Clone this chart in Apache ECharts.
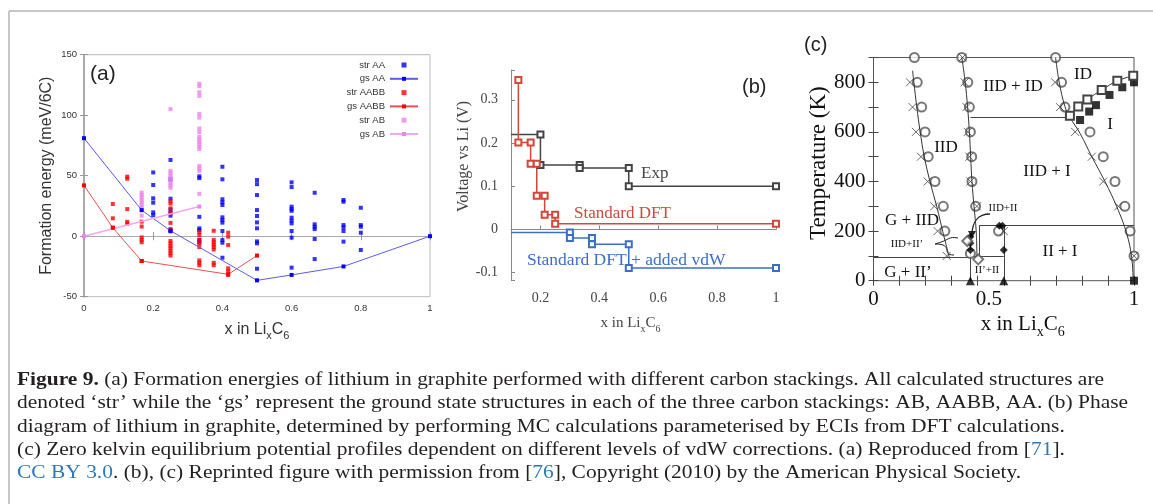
<!DOCTYPE html>
<html><head><meta charset="utf-8">
<script src="https://cdn.jsdelivr.net/npm/echarts@6/dist/echarts.min.js"></script>
<style>html,body{margin:0;padding:0;background:#fff}#c{width:1153px;height:504px}</style>
</head><body><div id="c"></div><script>
const serif = '"Liberation Serif", "Times New Roman", serif';
const sans = '"Liberation Sans", Arial, sans-serif';

// ---------------- panel (a): formation energies ----------------
const aXTicks = [0, 0.2, 0.4, 0.6, 0.8, 1];
const aYTicks = [-50, 0, 50, 100, 150];
const strAA_x = [0.2, 0.25, 0.3333, 0.4, 0.5, 0.6, 0.6667, 0.75, 0.8];
const strAA_y = [
  [52.7, 42.3, 31.3, 27.7, 19.7, 17.5],
  [63, 47, 31, 22, 19, 17, 5, 4],
  [49.5, 48, 16, 6.5, 5, -3, -5],
  [57.4, 47, 30.5, 28, 25.8, 15.6, 13.4, 11.2, 4.3, -3.2, -5.4, -17.8],
  [46.4, 43, 34, 21.6, 16.7, 11.4, 6.5, -4.3, -5.9, -26.9],
  [44.5, 40.6, 24.4, 22.4, 21, 15.3, 12.8, 10.6, 4.3, -1.2, -26],
  [35.9, 9.8, 7.8, 5.9, -2.3, -18.9],
  [29.9, 28.5, 9.2, 7.3, 4.3, -4.5],
  [23.5, 9.2, 7.8, 2.9, -11.4]
];
const gsAA_x = [0, 0.1667, 0.25, 0.5, 0.6, 0.75, 1];
const gsAA_y = [81, 21.5, 4.5, -36.5, -32, -25, 0];
const strAABB_x = [0.0833, 0.125, 0.1667, 0.25, 0.3333, 0.375, 0.4167];
const strAABB_y = [
  [26.6, 14.8, 7],
  [49.2, 47.5, 22.4, 11.9, 10.3],
  [12, 8, -1, -3, -5, -20.5],
  [29, 27, 23, 19.4, 11, 6, -4, -6, -8, -10, -12, -14, -16],
  [3.5, 1, -3, -6, -9, -20, -22, -24],
  [4.5, -3, -5, -7, -9, -11, -22, -24],
  [2.9, -0.4, -7.3, -26.6, -29, -32]
];
const gsAABB_x = [0, 0.0833, 0.1667, 0.4167, 0.5];
const gsAABB_y = [42, 7, -20.5, -31.5, -16];
const strAB_x = [0.1667, 0.25, 0.3333];
const strAB_y = [
  [36, 34, 32, 30, 28, 26, 24, 22, 17],
  [105, 54, 52, 50, 48, 46, 44, 42, 40],
  [126, 124, 119, 116, 101, 98, 89, 86, 82, 80, 78, 76, 74, 72, 58, 56, 54, 35]
];
const gsAB_x = [0, 0.3333];
const gsAB_y = [0, 24.5];

// ---------------- panel (b): voltage profiles ----------------
const bXTicks = [0.2, 0.4, 0.6, 0.8, 1];
const bYTicks = [-0.1, 0, 0.1, 0.2, 0.3];
const expX = [0.1, 0.2, 0.2, 0.3333, 0.3333, 0.5, 0.5, 1];
const expY = [0.22, 0.22, 0.149, 0.149, 0.142, 0.142, 0.1, 0.1];
const dftX = [0.125, 0.125, 0.1667, 0.1667, 0.1875, 0.1875, 0.2143, 0.2143, 0.25, 0.25, 1];
const dftY = [0.346, 0.201, 0.201, 0.152, 0.152, 0.078, 0.078, 0.034, 0.034, 0.013, 0.013];
const vdwX = [0.1, 0.3, 0.3, 0.375, 0.375, 0.5, 0.5, 1];
const vdwY = [-0.007, -0.007, -0.02, -0.02, -0.034, -0.034, -0.089, -0.089];

// ---------------- panel (c): phase diagram ----------------
const cXLabels = [0, 0.5, 1];
const cYLabels = [0, 200, 400, 600, 800];
const curve1_x = [0.150, 0.155, 0.166, 0.179, 0.195, 0.217, 0.243, 0.266, 0.291];
const curve1_y = [847, 800, 702, 601, 500, 399, 298, 198, 94];
const curve2_x = [0.339, 0.352, 0.361, 0.368, 0.373, 0.378, 0.386, 0.394, 0.397];
const curve2_y = [900, 800, 702, 601, 500, 399, 298, 204, 100];
const curve3_x = [0.699, 0.713, 0.735, 0.754, 0.793, 0.838, 0.889, 0.934, 0.972, 0.991, 0.997];
const curve3_y = [900, 800, 702, 659, 594, 500, 399, 298, 190, 94, 0];
const sqOpen_x = [0.754, 0.786, 0.821, 0.876, 0.936, 0.997];
const sqOpen_y = [665, 702, 731, 769, 806, 826];
const sqFill_x = [0.793, 0.828, 0.854, 0.906, 0.955, 1.0, 1.0];
const sqFill_y = [648, 682, 708, 749, 780, 800, 0];
const circ_x = [0.157, 0.168, 0.185, 0.198, 0.210, 0.236, 0.268, 0.274, 0.339, 0.362, 0.368, 0.372, 0.377, 0.378, 0.392, 0.699, 0.722, 0.735, 0.831, 0.882, 0.927, 0.965, 0.985, 0.480, 0.372, 1.0];
const circ_y = [900, 800, 700, 600, 500, 400, 300, 200, 900, 800, 700, 600, 500, 400, 300, 900, 800, 700, 600, 500, 400, 300, 200, 200, 110, 100];
const cross_x = [0.140, 0.150, 0.163, 0.182, 0.208, 0.233, 0.246, 0.281, 0.342, 0.350, 0.357, 0.362, 0.368, 0.372, 0.397, 0.697, 0.716, 0.774, 0.838, 0.882, 0.940, 0.500, 1.0];
const cross_y = [800, 700, 600, 500, 400, 300, 200, 100, 900, 800, 700, 600, 500, 400, 300, 800, 700, 600, 500, 400, 300, 200, 100];
const tri_x = [0.372, 0.5];
const tri_y = [0, 0];
const diaFill_x = [0.372, 0.372, 0.372, 0.5, 0.483, 0.495];
const diaFill_y = [124, 151, 177, 124, 222, 222];
const diaOpen_x = [0.402, 0.36];
const diaOpen_y = [86, 160];
// phase boundary segments: [x1, y1, x2, y2]
const segs = [
  [0.372, 659, 0.754, 659],
  [0.406, 222, 1.0, 222],
  [0, 93, 0.372, 93],
  [0.372, 100, 0.5, 100],
  [0.372, 0, 0.372, 198],
  [0.5, 0, 0.5, 222],
  [0.406, 100, 0.406, 222]
];

// ---------------- helpers ----------------
const zip = (xs, ys) => xs.map((x, i) => [x, ys[i]]);
const cols = (xs, yss) => { const o = []; xs.forEach((x, i) => yss[i].forEach(y => o.push([x, y]))); return o; };
const near = (v, arr) => arr.some(t => Math.abs(t - v) < 1e-6);
const fmtNum = v => String(+(+v).toFixed(2));

const chart = echarts.init(document.getElementById('c'), null, { renderer: 'canvas' });

const subName = (font, big, small, color) => ({
  rich: {
    n: { fontFamily: font, fontSize: big, color: color, verticalAlign: 'bottom', padding: [0, 0, Math.round(big * 0.22), 0] },
    s: { fontFamily: font, fontSize: small, color: color, verticalAlign: 'bottom' }
  }
});
const sqIcon = 'path://M0,0L10,0L10,10L0,10Z';

const option = {
  animation: false,
  backgroundColor: '#fff',
  legend: {
    data: [
      { name: 'str AA', icon: sqIcon }, 'gs AA',
      { name: 'str AABB', icon: sqIcon }, 'gs AABB',
      { name: 'str AB', icon: sqIcon }, 'gs AB'
    ],
    orient: 'vertical', right: 734, top: 60, padding: 0, align: 'right', symbolKeepAspect: true,
    itemWidth: 28, itemHeight: 5, itemGap: 3.8,
    textStyle: { fontSize: 9.5, color: '#333', fontFamily: sans }
  },
  grid: [
    { left: 84, right: 723, top: 54.7, bottom: 207.3, show: true, borderColor: '#bbb', borderWidth: 1 },
    { left: 511, right: 377, top: 70, bottom: 224, show: false },
    { left: 873.5, right: 19, top: 57.5, bottom: 223.3, show: true, borderColor: '#555', borderWidth: 1 }
  ],
  xAxis: [
    { gridIndex: 0, type: 'value', min: 0, max: 1, interval: 0.2,
      axisLine: { lineStyle: { color: '#aaa', width: 1 } },
      axisTick: { inside: true, length: 4, lineStyle: { color: '#999' } },
      axisLabel: { color: '#333', fontSize: 9.5, fontFamily: sans, margin: 7, formatter: v => near(v, aXTicks) ? fmtNum(v) : '' },
      splitLine: { show: false },
      name: '{n|x in Li}{s|x}{n|C}{s|6}', nameLocation: 'middle', nameGap: 25,
      nameTextStyle: subName(sans, 16, 11, '#333') },
    { gridIndex: 0, type: 'value', min: 0, max: 1, interval: 0.2, position: 'top',
      axisLine: { show: false }, axisTick: { inside: true, length: 4, lineStyle: { color: '#999' } },
      axisLabel: { show: false }, splitLine: { show: false } },
    { gridIndex: 1, type: 'value', min: 0.1, max: 1, minInterval: 0.2, maxInterval: 0.2,
      axisLine: { lineStyle: { color: '#888', width: 1 } },
      axisTick: { inside: true, length: 4, lineStyle: { color: '#888' } },
      axisLabel: { color: '#444', fontSize: 14, fontFamily: serif, margin: 11, formatter: v => near(v, bXTicks) ? fmtNum(v) : '' },
      splitLine: { show: false },
      name: '{n|x in Li}{s|x}{n|C}{s|6}', nameLocation: 'middle', nameGap: 36,
      nameTextStyle: Object.assign(subName(serif, 15, 10, '#444'), { padding: [0, 26, 0, 0] }) },
    { gridIndex: 2, type: 'value', min: 0, max: 1, interval: 0.1,
      axisLine: { show: false },
      axisTick: { inside: true, length: 5, lineStyle: { color: '#444' } },
      axisLabel: { color: '#111', fontSize: 21, fontFamily: serif, margin: 8,
        formatter: v => near(v, cXLabels) ? (Math.abs(v - 0.5) < 1e-6 ? '{m|0.5}' : fmtNum(v)) : '',
        rich: { m: { fontSize: 21, fontFamily: serif, color: '#111', padding: [0, 30, 0, 0] } } },
      splitLine: { show: false },
      name: '{n|x in Li}{s|x}{n|C}{s|6}', nameLocation: 'middle', nameGap: 33,
      nameTextStyle: Object.assign(subName(serif, 21, 14, '#111'), { padding: [0, 0, 0, 38] }) },
    { gridIndex: 2, type: 'value', min: 0, max: 1, interval: 0.1, position: 'top',
      axisLine: { show: false }, axisTick: { inside: true, length: 5, lineStyle: { color: '#444' } },
      axisLabel: { show: false }, splitLine: { show: false } }
  ],
  yAxis: [
    { gridIndex: 0, type: 'value', min: -50, max: 150, interval: 50,
      axisLine: { show: true, lineStyle: { color: '#aaa', width: 2 } },
      axisTick: { inside: true, length: 4, lineStyle: { color: '#999' } },
      axisLabel: { color: '#333', fontSize: 9.5, fontFamily: sans, margin: 7, formatter: v => near(v, aYTicks) ? fmtNum(v) : '' },
      splitLine: { show: false },
      name: 'Formation energy (meV/6C)', nameLocation: 'middle', nameGap: 29,
      nameTextStyle: { fontSize: 16, fontFamily: sans, color: '#333' } },
    { gridIndex: 0, type: 'value', min: -50, max: 150, interval: 50, position: 'right',
      axisLine: { show: false }, axisTick: { inside: true, length: 4, lineStyle: { color: '#999' } },
      axisLabel: { show: false }, splitLine: { show: false } },
    { gridIndex: 1, type: 'value', min: -0.117, max: 0.369, minInterval: 0.1, maxInterval: 0.1,
      axisLine: { show: true, lineStyle: { color: '#888', width: 1 } },
      axisTick: { inside: true, length: 4, lineStyle: { color: '#888' } },
      axisLabel: { color: '#444', fontSize: 14, fontFamily: serif, margin: 13, formatter: v => near(v, bYTicks) ? fmtNum(v) : '' },
      splitLine: { show: false },
      name: 'Voltage vs Li (V)', nameLocation: 'middle', nameGap: 36,
      nameTextStyle: { fontSize: 16, fontFamily: serif, color: '#444', padding: [0, 0, 0, 37] } },
    { gridIndex: 2, type: 'value', min: 0, max: 900, interval: 100,
      axisLine: { show: false },
      axisTick: { inside: true, length: 5, lineStyle: { color: '#444' } },
      axisLabel: { color: '#111', fontSize: 21, fontFamily: serif, margin: 8, formatter: v => near(v, cYLabels) ? fmtNum(v) : '' },
      splitLine: { show: false },
      name: 'Temperature (K)', nameLocation: 'middle', nameGap: 40,
      nameTextStyle: { fontSize: 23, fontFamily: serif, color: '#111', padding: [0, 0, 0, 12] } },
    { gridIndex: 2, type: 'value', min: 0, max: 900, interval: 100, position: 'right',
      axisLine: { show: false }, axisTick: { inside: true, length: 5, lineStyle: { color: '#444' } },
      axisLabel: { show: false }, splitLine: { show: false } }
  ],
  series: [
    // (a)
    { name: 'str AA', type: 'scatter', xAxisIndex: 0, yAxisIndex: 0, symbol: 'rect', symbolSize: 4,
      itemStyle: { color: '#0000ff' }, data: cols(strAA_x, strAA_y) },
    { name: 'gs AA', type: 'line', xAxisIndex: 0, yAxisIndex: 0, symbol: 'rect', symbolSize: 4, showSymbol: true,
      itemStyle: { color: '#0000ff' }, lineStyle: { color: '#5c5ce8', width: 1 }, data: zip(gsAA_x, gsAA_y) },
    { name: 'str AABB', type: 'scatter', xAxisIndex: 0, yAxisIndex: 0, symbol: 'rect', symbolSize: 4,
      itemStyle: { color: '#ff0000' }, data: cols(strAABB_x, strAABB_y) },
    { name: 'gs AABB', type: 'line', xAxisIndex: 0, yAxisIndex: 0, symbol: 'rect', symbolSize: 4, showSymbol: true,
      itemStyle: { color: '#ff0000' }, lineStyle: { color: '#e85050', width: 1 }, data: zip(gsAABB_x, gsAABB_y) },
    { name: 'str AB', type: 'scatter', xAxisIndex: 0, yAxisIndex: 0, symbol: 'rect', symbolSize: 4,
      itemStyle: { color: '#ee82ee' }, data: cols(strAB_x, strAB_y) },
    { name: 'gs AB', type: 'line', xAxisIndex: 0, yAxisIndex: 0, symbol: 'rect', symbolSize: 4, showSymbol: true,
      itemStyle: { color: '#ee82ee' }, lineStyle: { color: '#f2a8f2', width: 1.5 }, data: zip(gsAB_x, gsAB_y) },
    // (b)
    { name: 'Exp', type: 'line', xAxisIndex: 2, yAxisIndex: 2, symbol: 'emptyRect', symbolSize: 6, showSymbol: true,
      itemStyle: { color: '#444', borderWidth: 1 }, lineStyle: { color: '#444', width: 1.5 },
      data: zip(expX, expY).map((p, i) => i === 0 ? { value: p, symbol: 'none' } : p) },
    { name: 'Standard DFT', type: 'line', xAxisIndex: 2, yAxisIndex: 2, symbol: 'emptyRect', symbolSize: 6, showSymbol: true,
      itemStyle: { color: '#d3463a', borderWidth: 1 }, lineStyle: { color: '#d3463a', width: 1.5 }, data: zip(dftX, dftY) },
    { name: 'Standard DFT + added vdW', type: 'line', xAxisIndex: 2, yAxisIndex: 2, symbol: 'emptyRect', symbolSize: 6, showSymbol: true,
      itemStyle: { color: '#3c6fc4', borderWidth: 1 }, lineStyle: { color: '#3c6fc4', width: 1.5 },
      data: zip(vdwX, vdwY).map((p, i) => i === 0 ? { value: p, symbol: 'none' } : p) },
    // (c) boundaries
    { name: 'b1', type: 'line', xAxisIndex: 3, yAxisIndex: 3, symbol: 'none', smooth: 0.4,
      lineStyle: { color: '#333', width: 1 }, data: zip(curve1_x, curve1_y) },
    { name: 'b2', type: 'line', xAxisIndex: 3, yAxisIndex: 3, symbol: 'none', smooth: 0.4,
      lineStyle: { color: '#333', width: 1 }, data: zip(curve2_x, curve2_y) },
    { name: 'b3', type: 'line', xAxisIndex: 3, yAxisIndex: 3, symbol: 'none', smooth: 0.4,
      lineStyle: { color: '#333', width: 1 }, data: zip(curve3_x, curve3_y) },
    { name: 'b4', type: 'line', xAxisIndex: 3, yAxisIndex: 3, symbol: 'emptyRect', symbolSize: 8, smooth: 0.4,
      itemStyle: { color: '#444', borderWidth: 1 }, lineStyle: { color: '#333', width: 1 }, data: zip(sqOpen_x, sqOpen_y) },
    { name: 'segs', type: 'lines', coordinateSystem: 'cartesian2d', xAxisIndex: 3, yAxisIndex: 3,
      lineStyle: { color: '#444', width: 1, opacity: 1 }, symbol: 'none',
      data: segs.map(s => ({ coords: [[s[0], s[1]], [s[2], s[3]]] })) },
    { name: 'm1', type: 'scatter', xAxisIndex: 3, yAxisIndex: 3, symbol: 'emptyCircle', symbolSize: 9,
      itemStyle: { color: '#555', borderWidth: 1 }, data: zip(circ_x, circ_y) },
    { name: 'm2', type: 'scatter', xAxisIndex: 3, yAxisIndex: 3, symbol: 'path://M0,0L10,10M10,0L0,10', symbolSize: 8,
      itemStyle: { color: 'none', borderColor: '#444', borderWidth: 1 }, data: zip(cross_x, cross_y) },
    { name: 'm3', type: 'scatter', xAxisIndex: 3, yAxisIndex: 3, symbol: 'rect', symbolSize: 8,
      itemStyle: { color: '#000' }, data: zip(sqFill_x, sqFill_y) },
    { name: 'm4', type: 'scatter', xAxisIndex: 3, yAxisIndex: 3, symbol: 'triangle', symbolSize: 9,
      itemStyle: { color: '#000' }, data: zip(tri_x, tri_y) },
    { name: 'm5', type: 'scatter', xAxisIndex: 3, yAxisIndex: 3, symbol: 'diamond', symbolSize: 8,
      itemStyle: { color: '#000' }, data: zip(diaFill_x, diaFill_y) },
    { name: 'm6', type: 'scatter', xAxisIndex: 3, yAxisIndex: 3, symbol: 'emptyDiamond', symbolSize: 10,
      itemStyle: { color: '#555', borderWidth: 1 }, data: zip(diaOpen_x, diaOpen_y) }
  ],
  graphic: [
    { type: 'line', shape: { x1: 9, y1: 11, x2: 1153, y2: 11 }, style: { stroke: '#b4b4b4', lineWidth: 1.5 } },
    { type: 'line', shape: { x1: 9, y1: 11, x2: 9, y2: 504 }, style: { stroke: '#b4b4b4', lineWidth: 1.5 } },
    { type: 'text', x: 90, y: 74, style: { text: '(a)', fontSize: 21, fontFamily: sans, fill: '#222', textVerticalAlign: 'middle', verticalAlign: 'middle' } },
    { type: 'text', x: 742, y: 87, style: { text: '(b)', fontSize: 20, fontFamily: sans, fill: '#222', textVerticalAlign: 'middle', verticalAlign: 'middle' } },
    { type: 'text', x: 804, y: 45, style: { text: '(c)', fontSize: 20, fontFamily: sans, fill: '#222', textVerticalAlign: 'middle', verticalAlign: 'middle' } },
    { type: 'text', x: 641, y: 174, style: { text: 'Exp', fontSize: 17, fontFamily: serif, fill: '#444', textVerticalAlign: 'middle', verticalAlign: 'middle' } },
    { type: 'text', x: 574, y: 214, style: { text: 'Standard DFT', fontSize: 17, fontFamily: serif, fill: '#d3463a', textVerticalAlign: 'middle', verticalAlign: 'middle' } },
    { type: 'text', x: 527, y: 260, style: { text: 'Standard DFT + added vdW', fontSize: 17.5, fontFamily: serif, fill: '#3c6fc4', textVerticalAlign: 'middle', verticalAlign: 'middle' } },
    // (c) arrows
    { type: 'bezierCurve', shape: { x1: 935, y1: 244, x2: 954, y2: 255, cpx1: 955, cpy1: 244, cpx2: 940, cpy2: 255 }, style: { stroke: '#222', lineWidth: 1, fill: 'none' } },
    { type: 'bezierCurve', shape: { x1: 935, y1: 244, x2: 958, y2: 238, cpx1: 950, cpy1: 240, cpx2: 948, cpy2: 236 }, style: { stroke: '#222', lineWidth: 1, fill: 'none' } },
    { type: 'bezierCurve', shape: { x1: 990, y1: 214, x2: 972, y2: 235, cpx1: 978, cpy1: 214, cpx2: 972, cpy2: 222 }, style: { stroke: '#222', lineWidth: 1.3, fill: 'none' } },
    { type: 'polygon', shape: { points: [[968, 231], [976, 231], [972, 238]] }, style: { fill: '#222' } },
    // (c) region labels
    ...[
      ['ID', 1083, 75, 17], ['IID + ID', 1013, 87, 17], ['I', 1110, 125, 17], ['IID', 946, 148, 17],
      ['IID + I', 1047, 172, 17], ['G + IID', 912, 221, 17], ['II + I', 1060, 252, 17], ['G + II\u2019', 908, 273, 17],
      ['IID+II', 1003, 208, 11], ['IID+II\u2019', 907, 244, 11], ['II\u2019+II', 987, 270, 11]
    ].map(t => ({ type: 'text', x: t[1], y: t[2], style: { text: t[0], fontSize: t[3], fontFamily: serif, fill: '#111', textAlign: 'center', align: 'center', textVerticalAlign: 'middle', verticalAlign: 'middle' } })),
    // caption
    ...[
      '{b|Figure 9.} (a) Formation energies of lithium in graphite performed with different carbon stackings. All calculated structures are',
      'denoted \u2018str\u2019 while the \u2018gs\u2019 represent the ground state structures in each of the three carbon stackings: AB, AABB, AA. (b) Phase',
      'diagram of lithium in graphite, determined by performing MC calculations parameterised by ECIs from DFT calculations.',
      '(c) Zero kelvin equilibrium potential profiles dependent on different levels of vdW corrections. (a) Reproduced from [{l|71}].',
      '{l|CC BY 3.0}. (b), (c) Reprinted figure with permission from [{l|76}], Copyright (2010) by the American Physical Society.'
    ].map((t, i) => ({ type: 'text', x: 17, y: 380 + i * 23.2, scaleX: 1.1,
      style: { text: t, fontSize: 19.5, fontFamily: serif, fill: '#231f20', textVerticalAlign: 'middle', verticalAlign: 'middle',
        rich: { b: { fontSize: 19.5, fontFamily: serif, fontWeight: 'bold', fill: '#231f20', color: '#231f20' },
                l: { fontSize: 19.5, fontFamily: serif, fill: '#2a7ab9', color: '#2a7ab9' } } } }))
  ]
};
chart.setOption(option);
</script></body></html>
